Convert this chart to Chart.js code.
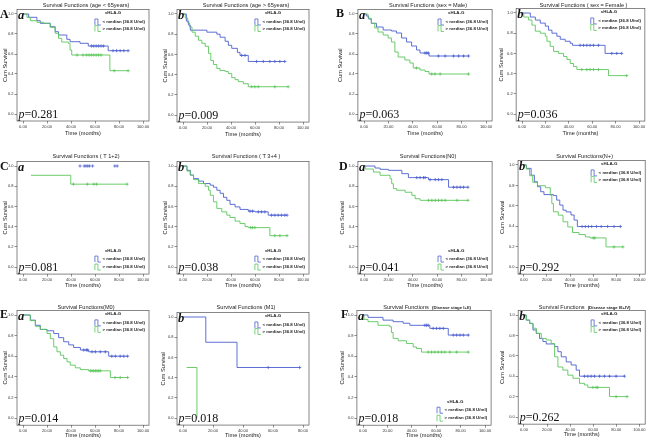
<!DOCTYPE html>
<html>
<head>
<meta charset="utf-8">
<script src="https://cdn.jsdelivr.net/npm/chart.js@4.4.1/dist/chart.umd.min.js"></script>
<style>
  html, body { margin: 0; padding: 0; background: #fff; }
  #page { position: relative; width: 650px; height: 441px; overflow: hidden; }
  #page canvas { position: absolute; left: 0; top: 0; }
</style>
</head>
<body>
<div id="page"></div>
<script>
// ---------- data (time in months, cumulative survival) ----------
const timeTicks = [0, 20, 40, 60, 80, 100];
const timeTicksM1 = [0, 20, 40, 60, 80];
const survTicks = [0, 0.2, 0.4, 0.6, 0.8, 1.0];

const panelTitles = [
  'Survival Functions (age < 65years)', 'Survival Functions (age > 65years)',
  'Survival Functions (sex = Male)', 'Survival Functions ( sex = Female )',
  'Survival Functions ( T 1+2)', 'Survival Functions ( T 3+4 )',
  'Survival Functions(N0)', 'Survival Functions(N+)',
  'Survival Functions(M0)', 'Survival Functions (M1)',
  'Survival Functions', 'Survival Functions'
];
const titleNotes = ['', '', '', '', '', '', '', '', '', '', '(Disease stage I+II)', '(Disease stage III+IV)'];
const pValues = ['0.281', '0.009', '0.063', '0.036', '0.081', '0.038', '0.041', '0.292', '0.014', '0.018', '0.018', '0.262'];
const legendLabels = ['< median (36.8 U/ml)', '> median (36.8 U/ml)'];

// A a : age < 65
const ageLowBlue = [[0,1],[4.7,0.967],[11.6,0.933],[14.4,0.907],[22.7,0.873],[26.8,0.823],[29.6,0.79],[36.5,0.747],[39.2,0.723],[47.5,0.707],[54.4,0.68],[71.0,0.633],[87.6,0.633]];
const ageLowBlueCens = [57,59,61,63,65,67,75,78,81,84,87.6];
const ageLowGreen = [[0,1],[3.3,0.967],[6.1,0.933],[11.6,0.917],[17.1,0.907],[22.7,0.867],[26.8,0.807],[29.6,0.757],[32.3,0.72],[37.8,0.707],[39.2,0.64],[40.6,0.59],[72.4,0.433],[87.6,0.433]];
const ageLowGreenCens = [45,50,53,55,57,59,61,63,65,76,87.6];
// A b : age > 65
const ageHighBlue = [[0,1],[2.8,0.93],[4.7,0.89],[6.1,0.84],[19.9,0.82],[28.2,0.80],[30.9,0.77],[35.1,0.73],[37.8,0.69],[40.6,0.66],[45.3,0.62],[47.5,0.59],[54.4,0.53],[84.8,0.53]];
const ageHighBlueCens = [48.9,51.7,61.3,66.9,72.4,76.5,80.7,84.8];
const ageHighGreen = [[0,1],[1.9,0.96],[3.9,0.91],[5.5,0.87],[7.5,0.82],[10.2,0.78],[13.0,0.74],[15.7,0.71],[18.5,0.68],[21.3,0.61],[23.2,0.54],[25.4,0.50],[28.2,0.46],[30.9,0.44],[35.1,0.43],[37.8,0.41],[40.6,0.37],[43.4,0.35],[46.1,0.33],[50.3,0.31],[54.4,0.28],[87.6,0.28]];
const ageHighGreenCens = [57.2,59.9,62.7,76.5,87.6];
// B a : male
const maleBlue = [[0,1],[1.9,0.98],[3.8,0.95],[6.0,0.907],[10.2,0.87],[15.7,0.84],[22.5,0.83],[26.6,0.81],[30.8,0.76],[34.9,0.72],[39.0,0.68],[43.1,0.64],[45.9,0.61],[53.3,0.58],[85.7,0.58]];
const maleBlueCens = [50,51.4,52.7,61,66.5,73.4,77.5,81.6,85.7];
const maleGreen = [[0,1],[3.3,0.957],[6.0,0.907],[8.8,0.86],[11.5,0.82],[15.7,0.79],[19.8,0.76],[22.5,0.72],[25.3,0.62],[28.0,0.57],[33.5,0.54],[37.6,0.51],[40.4,0.46],[45.9,0.44],[50.0,0.425],[53.3,0.40],[85.7,0.40]];
const maleGreenCens = [43.1,55.5,58.2,62.4,85.7];
// B b : female
const femaleBlue = [[0,1],[7.1,0.96],[11.4,0.93],[15.6,0.90],[19.9,0.87],[22.7,0.83],[25.6,0.80],[29.8,0.77],[32.7,0.74],[36.9,0.72],[41.2,0.70],[43.2,0.68],[71.0,0.60],[85.2,0.60]];
const femaleBlueCens = [49.7,52.6,55.4,58.2,61.1,65.3,76.7,81.0,85.2];
const femaleGreen = [[0,1],[1.5,0.96],[5.7,0.93],[8.5,0.88],[11.4,0.82],[15.6,0.80],[19.9,0.77],[21.3,0.72],[24.1,0.67],[27.0,0.62],[31.3,0.60],[35.5,0.57],[38.4,0.54],[41.2,0.50],[44.0,0.47],[46.9,0.44],[73.9,0.38],[89.5,0.38]];
const femaleGreenCens = [51.1,55.4,58.2,61.1,65.3,89.5];
// C a : T1+2
const t12Blue = [];
const t12BlueCens = [47.5,51,52.5,54,55.5,58,76.5,78.5];
const t12Green = [[6.6,0.908],[39.8,0.82],[86.7,0.82]];
const t12GreenCens = [42,53.6,59.1,61.3,86.7];
// C b : T3+4
const t34Blue = [[0,1],[3.3,0.957],[6.1,0.91],[8.8,0.875],[13.0,0.85],[17.1,0.826],[22.7,0.81],[25.4,0.79],[28.2,0.76],[30.9,0.73],[33.7,0.69],[36.5,0.66],[39.2,0.62],[43.4,0.595],[47.5,0.57],[54.4,0.553],[59.9,0.546],[71.0,0.513],[86.7,0.513]];
const t34BlueCens = [55.8,58,62.7,65.5,68.2,73.8,76.5,79.3,82,84.8,86.7];
const t34Green = [[0,1],[3.3,0.95],[6.1,0.91],[8.8,0.865],[13.0,0.826],[18.5,0.80],[21.3,0.76],[22.7,0.71],[25.4,0.645],[28.2,0.58],[32.3,0.546],[36.5,0.513],[39.2,0.49],[43.4,0.454],[47.5,0.43],[51.7,0.40],[54.4,0.39],[72.4,0.31],[86.7,0.31]];
const t34GreenCens = [56.4,58,59.9,76.5,80.7,86.7];
// D a : N0
const n0Blue = [[0,1],[9.0,0.98],[13.2,0.967],[20.0,0.957],[31.0,0.924],[36.4,0.885],[52.9,0.865],[69.3,0.79],[85.2,0.79]];
const n0BlueCens = [43.3,46,48.8,50.1,54.2,58.4,61.1,63.8,73.4,76.2,78.9,81.6,85.2];
const n0Green = [[0,1],[1,0.97],[7.7,0.94],[13.2,0.908],[21.4,0.874],[22.7,0.825],[24.1,0.776],[26.8,0.76],[33.7,0.74],[39.2,0.71],[41.9,0.676],[46.0,0.66],[85.2,0.66]];
const n0GreenCens = [52.9,55.6,58.4,61.1,63.8,66.6,76.2,85.2];
// D b : N+
const nPosBlue = [[0,1],[2.2,0.967],[6.3,0.90],[9.1,0.836],[11.8,0.787],[14.6,0.738],[17.4,0.71],[25.6,0.70],[28.4,0.656],[31.1,0.607],[33.9,0.557],[36.6,0.54],[40.8,0.51],[43.5,0.46],[46.3,0.397],[83.5,0.397]];
const nPosBlueCens = [50.4,53.2,55.9,58.7,62.8,66.9,72.5,78.0,83.5];
const nPosGreen = [[0,1],[2.2,0.96],[5.0,0.895],[7.7,0.83],[11.8,0.797],[18.7,0.777],[22.9,0.705],[24.2,0.623],[25.6,0.541],[29.8,0.508],[33.9,0.443],[38.0,0.393],[42.1,0.338],[47.7,0.318],[53.2,0.295],[57.3,0.285],[71.1,0.197],[85.7,0.197]];
const nPosGreenCens = [60.1,61.4,78,85.7];
// E a : M0
const m0Blue = [[0,1],[6.1,0.95],[10.3,0.90],[14.4,0.86],[20.0,0.847],[25.6,0.82],[29.7,0.78],[33.9,0.74],[38.1,0.71],[42.2,0.685],[47.8,0.66],[54.7,0.643],[71.4,0.60],[87.2,0.60]];
const m0BlueCens = [50.6,52.8,53.9,57.5,60.3,64.4,68.6,74,77,81,84,87.2];
const m0Green = [[0,1],[6.1,0.945],[10.3,0.89],[14.4,0.86],[20.0,0.82],[22.8,0.77],[25.6,0.69],[28.3,0.643],[31.1,0.61],[33.9,0.578],[36.7,0.545],[39.4,0.513],[43.6,0.487],[47.8,0.47],[54.7,0.458],[72.8,0.393],[87.2,0.393]];
const m0GreenCens = [56.1,57.5,58.9,60.3,61.7,63.1,64.4,76.7,81,87.2];
// E b : M1
const m1Blue = [[0,1],[15.2,0.75],[36.0,0.5],[77.8,0.5]];
const m1BlueCens = [56.8,77.8];
const m1Green = [[2.4,0.5],[9.3,0]];
const m1GreenCens = [];
// F a : stage I+II
const stageEarlyBlue = [[0,1],[4.1,0.977],[16.4,0.95],[24.7,0.935],[32.9,0.92],[38.4,0.90],[54.8,0.87],[69.9,0.805],[86.3,0.805]];
const stageEarlyBlueCens = [50.7,52.1,53.4,57.5,60.3,63.0,65.8,74,76.7,79.5,82.2,86.3];
const stageEarlyGreen = [[0,1],[0.8,0.957],[4.1,0.935],[12.3,0.90],[21.9,0.886],[23.3,0.83],[24.7,0.773],[28.8,0.75],[35.6,0.724],[41.1,0.69],[43.8,0.675],[47.9,0.64],[86.3,0.64]];
const stageEarlyGreenCens = [53.4,56.2,58.9,61.6,64.4,67.1,71.2,76.7,86.3];
// F b : stage III+IV
const stageLateBlue = [[0,1],[2.0,0.95],[4.9,0.918],[7.8,0.853],[10.7,0.82],[13.5,0.77],[16.4,0.74],[19.3,0.716],[26.5,0.69],[29.4,0.64],[32.3,0.59],[36.6,0.54],[40.9,0.51],[45.2,0.46],[48.1,0.40],[87.0,0.40]];
const stageLateBlueCens = [52.4,55.3,58.2,61.1,65.4,69.7,74.1,79.8,87.0];
const stageLateGreen = [[0,1],[2.0,0.95],[4.9,0.918],[7.8,0.87],[10.7,0.82],[15.0,0.77],[19.3,0.755],[23.6,0.72],[26.5,0.59],[29.4,0.49],[33.7,0.46],[38.0,0.41],[42.4,0.38],[48.1,0.33],[52.4,0.314],[55.3,0.29],[74.1,0.20],[89.3,0.20]];
const stageLateGreenCens = [59.7,62.5,63.9,79.8,89.3];

// series table built from the arrays above (blue, blue censored, green, green censored)
const series = [
  [ageLowBlue, ageLowBlueCens, ageLowGreen, ageLowGreenCens],
  [ageHighBlue, ageHighBlueCens, ageHighGreen, ageHighGreenCens],
  [maleBlue, maleBlueCens, maleGreen, maleGreenCens],
  [femaleBlue, femaleBlueCens, femaleGreen, femaleGreenCens],
  [t12Blue, t12BlueCens, t12Green, t12GreenCens],
  [t34Blue, t34BlueCens, t34Green, t34GreenCens],
  [n0Blue, n0BlueCens, n0Green, n0GreenCens],
  [nPosBlue, nPosBlueCens, nPosGreen, nPosGreenCens],
  [m0Blue, m0BlueCens, m0Green, m0GreenCens],
  [m1Blue, m1BlueCens, m1Green, m1GreenCens],
  [stageEarlyBlue, stageEarlyBlueCens, stageEarlyGreen, stageEarlyGreenCens],
  [stageLateBlue, stageLateBlueCens, stageLateGreen, stageLateGreenCens]
];

// ---------- layout (page pixels of t=0, last tick, S=1, S=0) ----------
const layout = [
  { x0: 23,  x1: 143, y1: 14,  y0: 114, yTitleX: 5,   titleY: 7,   hx: 15.5, legend: 'top' },
  { x0: 183, x1: 303, y1: 14,  y0: 115, yTitleX: 165, titleY: 7,   hx: 15.5, legend: 'top' },
  { x0: 364, x1: 486, y1: 14,  y0: 114, yTitleX: 340, titleY: 7,   hx: 15.5, legend: 'top' },
  { x0: 522, x1: 639, y1: 13,  y0: 114, yTitleX: 501, titleY: 7,   hx: 15.5, legend: 'top' },
  { x0: 23,  x1: 143, y1: 166, y0: 267, yTitleX: 5,   titleY: 158, hx: 15,   legend: 'bottom' },
  { x0: 183, x1: 303, y1: 166, y0: 267, yTitleX: 165, titleY: 158, hx: 15,   legend: 'bottom' },
  { x0: 364, x1: 486, y1: 166, y0: 267, yTitleX: 342, titleY: 158, hx: 15,   legend: 'bottom' },
  { x0: 524, x1: 643, y1: 165, y0: 267, yTitleX: 502, titleY: 158, hx: 15,   legend: 'top' },
  { x0: 23,  x1: 143, y1: 315, y0: 418, yTitleX: 5,   titleY: 309, hx: 13.8, legend: 'top' },
  { x0: 183, x1: 303, y1: 317, y0: 418, yTitleX: 163, titleY: 309, hx: 13.8, legend: 'top' },
  { x0: 363, x1: 485, y1: 315, y0: 418, yTitleX: 342, titleY: 309, hx: 13.8, legend: 'bottom' },
  { x0: 524, x1: 640, y1: 315, y0: 417, yTitleX: 502, titleY: 309, hx: 13.8, legend: 'top' }
];
const panelLetters = { 0: ['A', 0, 18], 2: ['B', 336, 17], 4: ['C', 0, 170], 6: ['D', 339, 170], 8: ['E', 0, 318], 10: ['F', 341, 318] };

const BLUE = '#4d60cf';
const GREEN = '#5cc65c';
const SANS = '"Liberation Sans", Arial, sans-serif';
const SERIF = '"Liberation Serif", "Times New Roman", serif';

Chart.defaults.font.family = SANS;

function levelAt(steps, t) {
  let s = 1;
  steps.forEach(([x, y]) => { if (x <= t + 1e-9) s = y; });
  return s;
}

function drawIcon(ctx, x, y, color) {
  ctx.strokeStyle = color;
  ctx.lineWidth = 0.8;
  ctx.beginPath();
  ctx.moveTo(x, y + 3);
  ctx.lineTo(x, y - 3);
  ctx.lineTo(x + 3, y - 3);
  ctx.lineTo(x + 3, y + 3);
  ctx.lineTo(x + 6, y + 3);
  ctx.stroke();
}

function decoPlugin(i) {
  const L = layout[i];
  return {
    id: 'deco' + i,
    beforeDatasetsDraw(chart) {
      const { ctx, chartArea: a } = chart;
      ctx.save();
      ctx.strokeStyle = '#555';
      ctx.lineWidth = 0.7;
      ctx.strokeRect(a.left, a.top, a.right - a.left, a.bottom - a.top);
      ctx.restore();
    },
    afterDraw(chart) {
      const { ctx, chartArea: a, scales } = chart;
      ctx.save();
      ctx.fillStyle = '#222';
      ctx.textBaseline = 'alphabetic';

      // title
      const cx = (a.left + a.right) / 2 + 3;
      ctx.font = '5.6px ' + SANS;
      const main = panelTitles[i];
      const note = titleNotes[i];
      if (note) {
        const w1 = ctx.measureText(main + '  ').width;
        ctx.font = 'bold 4.3px ' + SANS;
        const w2 = ctx.measureText(note).width;
        const start = cx - (w1 + w2) / 2;
        ctx.textAlign = 'left';
        ctx.font = '5.6px ' + SANS;
        ctx.fillText(main, start, L.titleY);
        ctx.font = 'bold 4.3px ' + SANS;
        ctx.fillText(note, start + w1, L.titleY);
      } else {
        ctx.textAlign = 'center';
        ctx.fillText(main, cx, L.titleY);
      }

      // panel letter
      ctx.textAlign = 'left';
      if (panelLetters[i]) {
        const [ch, lx, ly] = panelLetters[i];
        ctx.font = 'bold 12px ' + SERIF;
        ctx.fillStyle = '#111';
        ctx.fillText(ch, lx, ly);
      }
      // sub letter
      ctx.font = 'italic bold 12.5px ' + SERIF;
      ctx.fillStyle = '#111';
      ctx.fillText(i % 2 === 0 ? 'a' : 'b', a.left + 1, scales.y.getPixelForValue(1) + 5);

      // p value
      const py = scales.y.getPixelForValue(0) + 3.5;
      ctx.font = 'italic 12px ' + SERIF;
      ctx.fillText('p', a.left + 1.5, py);
      const pw = ctx.measureText('p').width;
      ctx.font = '12px ' + SERIF;
      ctx.fillText('=' + pValues[i], a.left + 1.5 + pw, py);

      // legend
      ctx.font = 'bold 4.4px ' + SANS;
      ctx.fillStyle = '#222';
      const tw = Math.max(ctx.measureText(legendLabels[0]).width, ctx.measureText(legendLabels[1]).width);
      const textX = a.right - 4 - tw;
      const iconX = textX - 7.5;
      let yHead, yA, yB;
      if (L.legend === 'top') {
        yHead = a.top + 3; yA = a.top + 12.5; yB = a.top + 19;
      } else {
        yHead = a.bottom - 23; yA = a.bottom - 15; yB = a.bottom - 7;
      }
      ctx.textBaseline = 'middle';
      ctx.fillText('sHLA-G', iconX + 10, yHead);
      ctx.fillText(legendLabels[0], textX, yA);
      ctx.fillText(legendLabels[1], textX, yB);
      drawIcon(ctx, iconX, yA, BLUE);
      drawIcon(ctx, iconX, yB, GREEN);
      ctx.restore();
    }
  };
}

const page = document.getElementById('page');

layout.forEach((L, i) => {
  const [blue, blueC, green, greenC] = series[i];
  const ticksX = i === 9 ? timeTicksM1 : timeTicks;
  const xMax = ticksX[ticksX.length - 1];
  const span = L.x1 - L.x0;
  const left = L.x0 - 0.05 * span;
  const right = Math.min(650, L.x1 + 0.05 * span);
  const top = L.y1 - 0.045 * (L.y0 - L.y1);
  const bottom = L.y0 + 0.07 * (L.y0 - L.y1);
  const padLeft = L.yTitleX - 3;
  const wy = left - padLeft;

  const canvas = document.createElement('canvas');
  canvas.width = 650;
  canvas.height = 441;
  page.appendChild(canvas);

  const line = (steps, color) => ({
    data: steps.map(([x, y]) => ({ x, y })),
    borderColor: color, borderWidth: 0.9, pointRadius: 0, stepped: 'before', fill: false
  });
  const cens = (steps, times, color) => ({
    type: 'scatter',
    data: times.map(t => ({ x: t, y: levelAt(steps, t) })),
    showLine: false, pointStyle: 'cross', pointRadius: 1.6,
    borderColor: color, backgroundColor: color, borderWidth: 0.8
  });

  new Chart(canvas, {
    type: 'line',
    data: {
      datasets: [
        line(green, GREEN), cens(green, greenC, GREEN),
        line(blue, BLUE), cens(blue, blueC, BLUE)
      ]
    },
    options: {
      responsive: false,
      animation: false,
      events: [],
      layout: { padding: { left: padLeft, top: top, right: 650 - right, bottom: 441 - bottom - L.hx } },
      plugins: { legend: { display: false }, title: { display: false }, tooltip: { enabled: false } },
      scales: {
        x: {
          type: 'linear', min: -0.05 * xMax, max: 1.05 * xMax,
          afterBuildTicks: s => { s.ticks = ticksX.map(v => ({ value: v })); },
          afterFit: s => { s.height = L.hx; s.paddingLeft = 0; s.paddingRight = 0; },
          grid: { drawOnChartArea: false, tickLength: 2.5, color: '#444', lineWidth: 0.6 },
          border: { display: false },
          ticks: { autoSkip: false, maxRotation: 0, padding: 1, font: { size: 4 }, color: '#333', callback: v => Number(v).toFixed(2) },
          title: { display: true, text: 'Time (months)', font: { size: 5.6 }, color: '#222', padding: 0 }
        },
        y: {
          type: 'linear', min: -0.07, max: 1.045,
          afterBuildTicks: s => { s.ticks = survTicks.map(v => ({ value: v })); },
          afterFit: s => { s.width = wy; s.paddingTop = 0; s.paddingBottom = 0; },
          grid: { drawOnChartArea: false, tickLength: 2.5, color: '#444', lineWidth: 0.6 },
          border: { display: false },
          ticks: { autoSkip: false, padding: 1, font: { size: 4 }, color: '#333', callback: v => Number(v).toFixed(1) },
          title: { display: true, text: 'Cum Survival', font: { size: 5.6 }, color: '#222', padding: 0 }
        }
      }
    },
    plugins: [decoPlugin(i)]
  });
});
</script>
</body>
</html>
